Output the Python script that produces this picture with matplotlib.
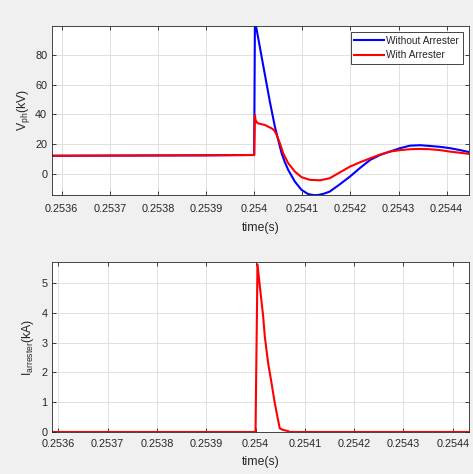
import matplotlib
matplotlib.use("Agg")
import matplotlib.pyplot as plt

plt.rcParams['font.family'] = ['Liberation Sans', 'DejaVu Sans']
plt.rcParams['mathtext.fontset'] = 'custom'
plt.rcParams['mathtext.rm'] = 'Liberation Sans'
plt.rcParams['mathtext.it'] = 'Liberation Sans:italic'

# ---- data ----
t_without = [0.25358, 0.2539, 0.25399, 0.2540000, 0.2540015, 0.2540035, 0.254018,
             0.2540326, 0.254043, 0.2540499, 0.254057, 0.2540638, 0.2540707,
             0.2540846, 0.2540985, 0.2541123, 0.2541240, 0.2541331, 0.254145,
             0.254157, 0.254178, 0.254199, 0.254220, 0.254241, 0.254262,
             0.254282, 0.254303, 0.254324, 0.254345, 0.254365, 0.254386,
             0.254407, 0.254428, 0.254448]
v_without = [12.2, 12.5, 12.7, 12.7, 101.0, 100.0, 74.3,
             48.6, 31.8, 22.9, 13.9, 7.8, 2.7,
             -5.2, -10.8, -13.6, -14.3, -14.2, -13.3,
             -11.9, -7.0, -1.8, 4.0, 9.4, 12.8,
             15.0, 17.3, 19.0, 19.3, 18.8, 18.2,
             17.3, 16.0, 14.6]

t_with = [0.25358, 0.2539, 0.25399, 0.2540000, 0.2540015, 0.254003, 0.254007,
          0.2540222, 0.254036, 0.254041, 0.2540451, 0.2540534, 0.2540603,
          0.2540707, 0.2540846, 0.2540985, 0.2541157, 0.254137, 0.254157,
          0.254178, 0.254199, 0.254220, 0.254241, 0.254262, 0.254282,
          0.254303, 0.254324, 0.254345, 0.254365, 0.254386, 0.254407,
          0.254428, 0.254448]
v_with = [12.2, 12.5, 12.7, 12.7, 39.7, 36.0, 34.1,
          32.9, 30.7, 29.5, 27.4, 20.6, 13.9,
          7.2, 1.5, -2.2, -4.0, -4.3, -2.9,
          1.0, 4.9, 7.8, 10.5, 13.0, 15.0,
          16.0, 16.6, 16.8, 16.6, 16.0, 15.0,
          14.2, 13.4]

t_current = [0.25358, 0.2540000, 0.2540041, 0.2540087, 0.2540154, 0.2540189,
             0.2540256, 0.2540325, 0.2540391, 0.2540458, 0.2540493, 0.254056,
             0.2540661, 0.2540696, 0.25445]
i_current = [0.0, 0.0, 5.62, 4.90, 3.90, 3.20,
             2.31, 1.64, 0.97, 0.40, 0.12, 0.07,
             0.03, 0.0, 0.0]

x_ticks = [0.2536, 0.2537, 0.2538, 0.2539, 0.2540, 0.2541, 0.2542, 0.2543, 0.2544]
x_tick_labels = ['0.2536', '0.2537', '0.2538', '0.2539', '0.254',
                 '0.2541', '0.2542', '0.2543', '0.2544']
v_ticks = [0, 20, 40, 60, 80]
i_ticks = [0, 1, 2, 3, 4, 5]
legend_labels = ['Without Arrester', 'With Arrester']

# ---- figure ----
W, H = 473, 474
fig = plt.figure(figsize=(W / 100, H / 100), dpi=100, facecolor='#f0f0f0')

txt = '#262626'
def style(ax, xpad):
    ax.set_facecolor('white')
    for s in ax.spines.values():
        s.set_color('#262626')
        s.set_linewidth(0.6)
    ax.tick_params(direction='in', top=True, right=True, length=3, width=0.6,
                   colors='#262626', labelsize=7.8, labelcolor=txt)
    ax.tick_params(axis='x', pad=xpad)
    ax.grid(True, color='#dcdcdc', linewidth=0.6)
    ax.set_axisbelow(True)

ax1 = fig.add_axes([52 / W, 1 - 195 / H, 417 / W, 169 / H])
style(ax1, 6.5)
ax1.plot(t_without, v_without, color=(0, 0, 1), lw=1.5, label=legend_labels[0])
ax1.plot(t_with, v_with, color=(1, 0, 0), lw=1.5, label=legend_labels[1])
ax1.set_xlim(0.25357987, 0.2544464)
ax1.set_ylim(-14.2, 99.5)
ax1.set_xticks(x_ticks)
ax1.set_xticklabels(x_tick_labels)
ax1.set_yticks(v_ticks)
ax1.set_xlabel('time(s)', fontsize=8.8, color=txt, labelpad=6)
ax1.set_ylabel(r'V$_{\rm ph}$(kV)', fontsize=8.8, color=txt, labelpad=2)
leg = ax1.legend(loc='upper right', fontsize=7.3, frameon=True, fancybox=False,
                 edgecolor='#262626', framealpha=1, handlelength=3.0,
                 borderpad=0.35, labelspacing=0.45, handletextpad=0.2,
                 borderaxespad=0.6)
leg.get_frame().set_linewidth(0.6)
for tx in leg.get_texts():
    tx.set_color(txt)

ax2 = fig.add_axes([52.3 / W, 1 - 432 / H, 417 / W, 170 / H])
style(ax2, 5)
ax2.plot(t_current, i_current, color=(1, 0, 0), lw=1.5)
ax2.set_xlim(0.25358783, 0.25443367)
ax2.set_ylim(0, 5.7)
ax2.set_xticks(x_ticks)
ax2.set_xticklabels(x_tick_labels)
ax2.set_yticks(i_ticks)
ax2.set_xlabel('time(s)', fontsize=8.8, color=txt, labelpad=5)
ax2.set_ylabel(r'I$_{\rm arrester}$(kA)', fontsize=8.8, color=txt, labelpad=4)

fig.savefig('out.png', dpi=100, facecolor=fig.get_facecolor())
